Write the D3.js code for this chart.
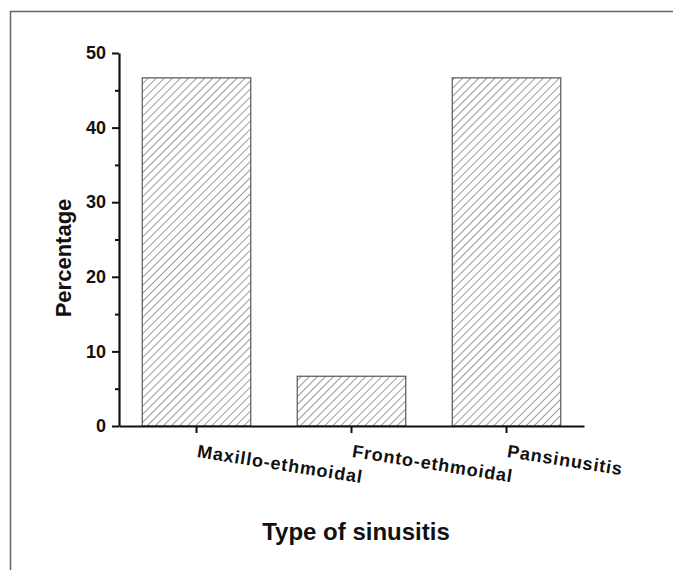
<!DOCTYPE html>
<html>
<head>
<meta charset="utf-8">
<script src="https://cdn.jsdelivr.net/npm/d3@7"></script>
<style>
  body { margin: 0; background: #fff; }
  text { font-family: "Liberation Sans", Arial, sans-serif; font-weight: bold; fill: #111; }
</style>
</head>
<body>
<svg width="673" height="570"></svg>
<script>
// data
const categories = ['Maxillo-ethmoidal', 'Fronto-ethmoidal', 'Pansinusitis'];
const percentages = [46.67, 6.67, 46.67];
const yTicks = [0, 10, 20, 30, 40, 50];
const yMinorTicks = [5, 15, 25, 35, 45];

const svg = d3.select('svg');

// frame round the figure (cut off at right / bottom like the scan)
svg.append('rect')
  .attr('x', 10.5).attr('y', 11.5)
  .attr('width', 700).attr('height', 600)
  .attr('fill', 'none')
  .attr('stroke', '#666')
  .attr('stroke-width', 1.5);

// hatch fill
svg.append('defs').append('pattern')
  .attr('id', 'hatch')
  .attr('patternUnits', 'userSpaceOnUse')
  .attr('width', 5.7).attr('height', 5.7)
  .attr('patternTransform', 'rotate(45)')
  .append('line')
  .attr('x1', 0).attr('y1', 0).attr('x2', 0).attr('y2', 5.7)
  .attr('stroke', '#666')
  .attr('stroke-width', 1.3);

const xScale = d3.scaleBand()
  .domain(categories)
  .range([119, 584])
  .paddingInner(0.3)
  .paddingOuter(0.15);

const yScale = d3.scaleLinear()
  .domain([0, 50])
  .range([426, 53]);

// bars
svg.selectAll('.bar')
  .data(categories)
  .enter()
  .append('rect')
  .classed('bar', true)
  .attr('x', d => xScale(d))
  .attr('y', (d, i) => yScale(percentages[i]))
  .attr('width', xScale.bandwidth())
  .attr('height', (d, i) => yScale(0) - yScale(percentages[i]))
  .attr('fill', 'url(#hatch)')
  .attr('stroke', '#555')
  .attr('stroke-width', 1.2);

// y axis
const gy = svg.append('g')
  .attr('transform', 'translate(119,0)')
  .attr('font-size', 18)
  .attr('font-family', '"Liberation Sans", Arial, sans-serif')
  .call(d3.axisLeft(yScale).tickValues(yTicks).tickSize(7).tickSizeOuter(0).tickPadding(6));
gy.select('.domain').attr('stroke-width', 2.2).attr('stroke', '#111');
gy.selectAll('.tick line').attr('stroke-width', 2).attr('stroke', '#111');
gy.selectAll('.tick text')
  .style('font-size', '18px')
  .attr('fill', '#111');

svg.append('g')
  .attr('transform', 'translate(119,0)')
  .call(d3.axisLeft(yScale).tickValues(yMinorTicks).tickSize(4).tickFormat(''))
  .call(g => g.select('.domain').remove())
  .selectAll('.tick line').attr('stroke-width', 2).attr('stroke', '#111');

// x axis
const gx = svg.append('g')
  .attr('transform', 'translate(0,426)')
  .call(d3.axisBottom(xScale).tickSize(7).tickSizeOuter(0).tickFormat(''));
gx.select('.domain').attr('stroke-width', 2.2).attr('stroke', '#111');
gx.selectAll('.tick line').attr('stroke-width', 2).attr('stroke', '#111');

// slanted category labels
svg.selectAll('.xlabel')
  .data(categories)
  .enter()
  .append('text')
  .classed('xlabel', true)
  .attr('transform', d => 'translate(' + (xScale(d) + xScale.bandwidth() / 2) + ',457) rotate(9)')
  .attr('text-anchor', 'start')
  .style('font-size', '18px')
  .style('letter-spacing', '0.9px')
  .text(d => d);

// axis titles
svg.append('text')
  .attr('transform', 'translate(71,258) rotate(-90)')
  .attr('text-anchor', 'middle')
  .style('font-size', '22px')
  .text('Percentage');

svg.append('text')
  .attr('x', 356).attr('y', 540)
  .attr('text-anchor', 'middle')
  .style('font-size', '24px')
  .text('Type of sinusitis');
</script>
</body>
</html>
